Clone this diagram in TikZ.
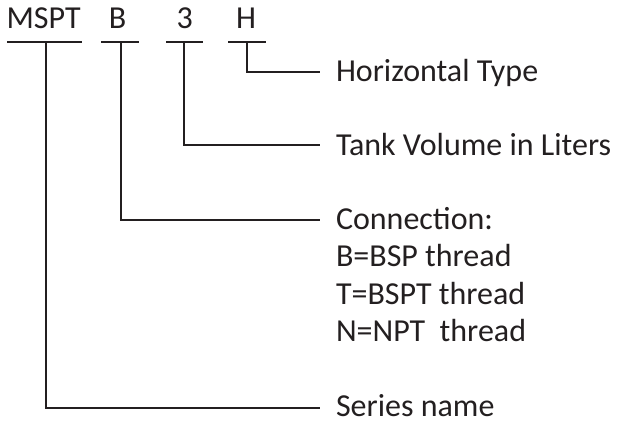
\documentclass[tikz,border=0pt]{standalone}
\usepackage{fontspec}
\setmainfont{Carlito}
\definecolor{ink}{HTML}{231F20}
\begin{document}
\begin{tikzpicture}[x=1pt,y=-1pt,
  lbl/.style={inner sep=0pt,outer sep=0pt,text=ink,font=\fontsize{32}{37.4}\selectfont},
  ln/.style={draw=ink,line width=1.8pt}]
\useasboundingbox (0,0) rectangle (621,424);
% code letters
\node[lbl,anchor=base] (mspt) at (43.6,28.7) {MSPT};
\node[lbl,anchor=base] (b) at (117.6,28.7) {B};
\node[lbl,anchor=base] (three) at (184.7,28.7) {3};
\node[lbl,anchor=base] (h) at (246.2,28.7) {H};
% underlines
\coordinate (ulM1) at (7,42);   \coordinate (ulM2) at (82,42);
\coordinate (ulB1) at (101,42); \coordinate (ulB2) at (139,42);
\coordinate (ul31) at (166,42); \coordinate (ul32) at (203,42);
\coordinate (ulH1) at (228,42); \coordinate (ulH2) at (266,42);
\draw[ln] (ulM1) -- (ulM2);
\draw[ln] (ulB1) -- (ulB2);
\draw[ln] (ul31) -- (ul32);
\draw[ln] (ulH1) -- (ulH2);
% descriptions
\node[lbl,anchor=base west] (dH) at (336,81) {Horizontal Type};
\node[lbl,anchor=base west] (d3) at (336,155) {Tank Volume in Liters};
\node[lbl,anchor=base west,align=left] (dB) at (336,341.7) {Connection:\\B=BSP thread\\T=BSPT thread\\N=NPT\ \ thread};
\node[lbl,anchor=base west] (dM) at (336,416.7) {Series name};
% connector points
\coordinate (tM) at (45.7,42);  \coordinate (eM) at (320,408);
\coordinate (tB) at (120.7,42); \coordinate (eB) at (320,220);
\coordinate (t3) at (184.3,42); \coordinate (e3) at (320,145);
\coordinate (tH) at (246.7,42); \coordinate (eH) at (320,71.7);
\draw[ln] (tM) |- (eM);
\draw[ln] (tB) |- (eB);
\draw[ln] (t3) |- (e3);
\draw[ln] (tH) |- (eH);
\end{tikzpicture}
\end{document}
